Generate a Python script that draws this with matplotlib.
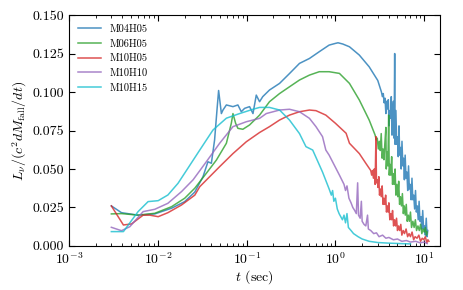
import matplotlib
matplotlib.use("Agg")
import matplotlib.pyplot as plt

plt.rcParams["font.family"] = "serif"
plt.rcParams["font.serif"] = ["cmr10"]
plt.rcParams["mathtext.fontset"] = "cm"
plt.rcParams["axes.unicode_minus"] = False
plt.rcParams["axes.formatter.use_mathtext"] = True

labels = ["M04H05", "M06H05", "M10H05", "M10H10", "M10H15"]
colors = ["tab:blue", "tab:green", "tab:red", "tab:purple", "tab:cyan"]

# M04H05
t_m04h05 = [0.003, 0.0039, 0.006, 0.00925, 0.0143, 0.0201, 0.0261, 0.0323, 0.0367, 0.0401,
            0.0436, 0.0464, 0.0484, 0.052, 0.0542, 0.0592, 0.0702, 0.0798, 0.0871, 0.095,
            0.108, 0.118, 0.1285, 0.140, 0.152, 0.181, 0.235, 0.304, 0.394, 0.51,
            0.658, 0.85, 1.0, 1.07, 1.21, 1.44, 1.86, 2.4, 3.0,
            3.3, 3.38, 3.46, 3.54, 3.62, 3.7, 3.78, 3.86, 3.94, 4.02, 4.1, 4.18, 4.26,
            4.34, 4.42, 4.5, 4.58, 4.65, 4.7, 4.8, 4.9, 5.0, 5.1, 5.2, 5.3, 5.4, 5.5,
            5.62, 5.74, 5.86, 5.98, 6.1, 6.24, 6.38, 6.52, 6.66, 6.8, 6.96, 7.12, 7.28,
            7.44, 7.62, 7.8, 7.98, 8.16, 8.36, 8.56, 8.76, 8.96, 9.18, 9.4, 9.62, 9.84,
            10.06, 10.3, 10.54, 10.78, 10.95]
L_m04h05 = [0.026, 0.0216, 0.020, 0.0208, 0.0245, 0.0288, 0.035, 0.045, 0.0547, 0.0537,
            0.0688, 0.0883, 0.101, 0.086, 0.0883, 0.0916, 0.0905, 0.0916, 0.0872, 0.0894,
            0.0905, 0.086, 0.098, 0.0937, 0.097, 0.1013, 0.1056, 0.112, 0.1186, 0.1218,
            0.1262, 0.1305, 0.1316, 0.132, 0.1312, 0.1294, 0.124, 0.1164, 0.1075,
            0.100, 0.097, 0.099, 0.093, 0.096, 0.086, 0.094, 0.089, 0.095, 0.078, 0.088,
            0.083, 0.097, 0.072, 0.085, 0.094, 0.070, 0.125, 0.066, 0.088, 0.066, 0.071,
            0.058, 0.078, 0.059, 0.064, 0.050, 0.068, 0.052, 0.057, 0.043, 0.059, 0.044,
            0.048, 0.036, 0.052, 0.037, 0.040, 0.030, 0.044, 0.030, 0.033, 0.024, 0.036,
            0.022, 0.026, 0.017, 0.029, 0.016, 0.019, 0.011, 0.023, 0.011, 0.013, 0.007,
            0.018, 0.006, 0.010]

# M06H05
t_m06h05 = [0.003, 0.0039, 0.006, 0.00925, 0.0143, 0.0201, 0.0261, 0.0352, 0.0457, 0.0592,
            0.0673, 0.0702, 0.0752, 0.0798, 0.0908, 0.108, 0.140, 0.181, 0.235, 0.304,
            0.394, 0.51, 0.658, 0.85, 1.11, 1.44, 1.86, 2.4,
            2.8, 2.88, 2.96, 3.04, 3.12, 3.2, 3.28, 3.36, 3.44, 3.52, 3.6, 3.7, 3.74,
            3.82, 3.9, 3.98, 4.04, 4.12, 4.2, 4.3, 4.4, 4.5, 4.6, 4.7, 4.8, 4.92, 5.04,
            5.16, 5.28, 5.4, 5.54, 5.68, 5.82, 5.96, 6.12, 6.28, 6.44, 6.62, 6.8, 7.0,
            7.2, 7.45, 7.7, 7.95, 8.2, 8.5, 8.8, 9.1, 9.4, 9.7, 10.0, 10.3, 10.6, 10.8]
L_m06h05 = [0.0208, 0.021, 0.020, 0.0212, 0.0255, 0.031, 0.0375, 0.0472, 0.0558, 0.0667,
            0.0797, 0.086, 0.0797, 0.0764, 0.0758, 0.0786, 0.085, 0.0937, 0.099, 0.1034,
            0.1078, 0.111, 0.1132, 0.1132, 0.1121, 0.1056, 0.0948, 0.0818,
            0.072, 0.069, 0.070, 0.063, 0.068, 0.062, 0.073, 0.057, 0.063, 0.056, 0.066,
            0.077, 0.050, 0.061, 0.052, 0.085, 0.046, 0.053, 0.046, 0.058, 0.040, 0.047,
            0.040, 0.050, 0.033, 0.040, 0.032, 0.042, 0.027, 0.032, 0.026, 0.034, 0.021,
            0.026, 0.020, 0.027, 0.016, 0.020, 0.016, 0.022, 0.012, 0.016, 0.012, 0.017,
            0.010, 0.013, 0.010, 0.014, 0.008, 0.011, 0.009, 0.012, 0.007, 0.009]

# M10H05
t_m10h05 = [0.003, 0.0041, 0.00506, 0.00684, 0.00813, 0.0101, 0.013, 0.0185, 0.0261, 0.0297,
            0.0497, 0.0702, 0.0993, 0.140, 0.181, 0.235, 0.304, 0.394, 0.51, 0.604,
            0.78, 1.0, 1.32, 1.44, 1.86, 2.2,
            2.5, 2.56, 2.62, 2.68, 2.74, 2.8, 2.86, 2.9, 2.96, 3.02, 3.08, 3.14, 3.2,
            3.28, 3.36, 3.44, 3.52, 3.6, 3.68, 3.76, 3.84, 3.92, 4.0, 4.1, 4.2, 4.3,
            4.4, 4.52, 4.64, 4.76, 4.88, 5.0, 5.15, 5.3, 5.45, 5.6, 5.8, 6.0, 6.25, 6.5,
            6.75, 7.0, 7.3, 7.6, 7.9, 8.3, 8.7, 9.1, 9.5, 9.9, 10.3, 10.7, 11.0, 11.3]
L_m10h05 = [0.026, 0.0136, 0.0143, 0.020, 0.020, 0.019, 0.0216, 0.0266, 0.033, 0.0385,
            0.0515, 0.060, 0.0677, 0.0737, 0.0775, 0.0818, 0.085, 0.0872, 0.0883, 0.0879,
            0.085, 0.0797, 0.0732, 0.0667, 0.060, 0.0537,
            0.049, 0.046, 0.049, 0.044, 0.050, 0.040, 0.071, 0.041, 0.043, 0.038, 0.045,
            0.033, 0.037, 0.032, 0.039, 0.027, 0.031, 0.027, 0.033, 0.022, 0.026, 0.022,
            0.028, 0.017, 0.021, 0.017, 0.023, 0.013, 0.017, 0.013, 0.018, 0.010, 0.013,
            0.010, 0.014, 0.007, 0.010, 0.008, 0.011, 0.006, 0.008, 0.006, 0.009, 0.004,
            0.006, 0.005, 0.007, 0.003, 0.005, 0.004, 0.006, 0.002, 0.004, 0.003]

# M10H10
t_m10h10 = [0.003, 0.0039, 0.00484, 0.00684, 0.00925, 0.013, 0.0185, 0.025, 0.0352, 0.0497,
            0.0702, 0.0993, 0.140, 0.1665, 0.235, 0.304, 0.394, 0.51, 0.604, 0.716,
            0.78, 0.85, 1.11,
            1.25, 1.3, 1.35, 1.42, 1.5, 1.57, 1.65, 1.72, 1.78, 1.82, 1.9, 1.96, 2.0,
            2.1, 2.2, 2.3, 2.35, 2.5, 2.7, 2.9, 3.1, 3.4, 3.7, 4.0, 4.5, 5.0, 5.6, 6.3,
            7.0, 8.0, 9.0, 10.0, 10.8]
L_m10h10 = [0.0121, 0.0099, 0.0125, 0.0223, 0.0238, 0.0277, 0.0353, 0.043, 0.0547, 0.0667,
            0.0775, 0.0807, 0.0829, 0.086, 0.0883, 0.0888, 0.0872, 0.0829, 0.0775, 0.071,
            0.0623, 0.059, 0.046,
            0.040, 0.036, 0.039, 0.031, 0.028, 0.025, 0.023, 0.021, 0.041, 0.020, 0.018,
            0.029, 0.016, 0.014, 0.013, 0.020, 0.011, 0.010, 0.008, 0.0085, 0.006, 0.007,
            0.005, 0.0055, 0.004, 0.0045, 0.003, 0.0035, 0.0025, 0.003, 0.002, 0.0025,
            0.0015]

# M10H15
t_m10h15 = [0.003, 0.0041, 0.006, 0.00778, 0.0101, 0.013, 0.0169, 0.021, 0.0297, 0.0418,
            0.0592, 0.0834, 0.118, 0.140, 0.181, 0.235, 0.304, 0.394, 0.466, 0.555,
            0.716,
            0.85, 0.9, 0.93, 0.96, 1.0, 1.05, 1.1, 1.2, 1.25, 1.3, 1.35, 1.4, 1.5, 1.6,
            1.8, 2.0, 2.4, 3.0, 4.0, 5.5, 7.0]
L_m10h15 = [0.0093, 0.0093, 0.0223, 0.0288, 0.0294, 0.0331, 0.0407, 0.049, 0.0623, 0.0753,
            0.083, 0.086, 0.0888, 0.090, 0.090, 0.0883, 0.0818, 0.073, 0.0645, 0.0623,
            0.048,
            0.037, 0.033, 0.036, 0.029, 0.031, 0.024, 0.021, 0.017, 0.020, 0.015, 0.021,
            0.012, 0.010, 0.008, 0.006, 0.0045, 0.003, 0.0022, 0.0018, 0.0015, 0.0013]

series = [(t_m04h05, L_m04h05), (t_m06h05, L_m06h05), (t_m10h05, L_m10h05),
          (t_m10h10, L_m10h10), (t_m10h15, L_m10h15)]

fig = plt.figure(figsize=(4.63, 2.90), dpi=100)
ax = fig.add_axes([0.149, 0.152, 0.801, 0.796])

for (t, L), lab, c in zip(series, labels, colors):
    ax.plot(t, L, color=c, alpha=0.8, lw=1.1, label=lab)

ax.set_xscale("log")
ax.set_xlim(1e-3, 15)
ax.set_ylim(0, 0.15)
ax.set_yticks([0, 0.025, 0.05, 0.075, 0.1, 0.125, 0.15])
ax.set_yticklabels(["0.000", "0.025", "0.050", "0.075", "0.100", "0.125", "0.150"])
ax.tick_params(which="both", direction="in", top=True, right=True, labelsize=10)
ax.tick_params(which="major", length=4)
ax.tick_params(which="minor", length=2)

ax.set_xlabel("$t$ (sec)", fontsize=10, labelpad=1)
ax.set_ylabel(r"$L_\nu/(c^2dM_{\rm fall}/dt)$", fontsize=10, labelpad=2)
ax.legend(loc="upper left", frameon=False, fontsize=7.5, handlelength=2.2)

fig.savefig("out.png", dpi=100)
